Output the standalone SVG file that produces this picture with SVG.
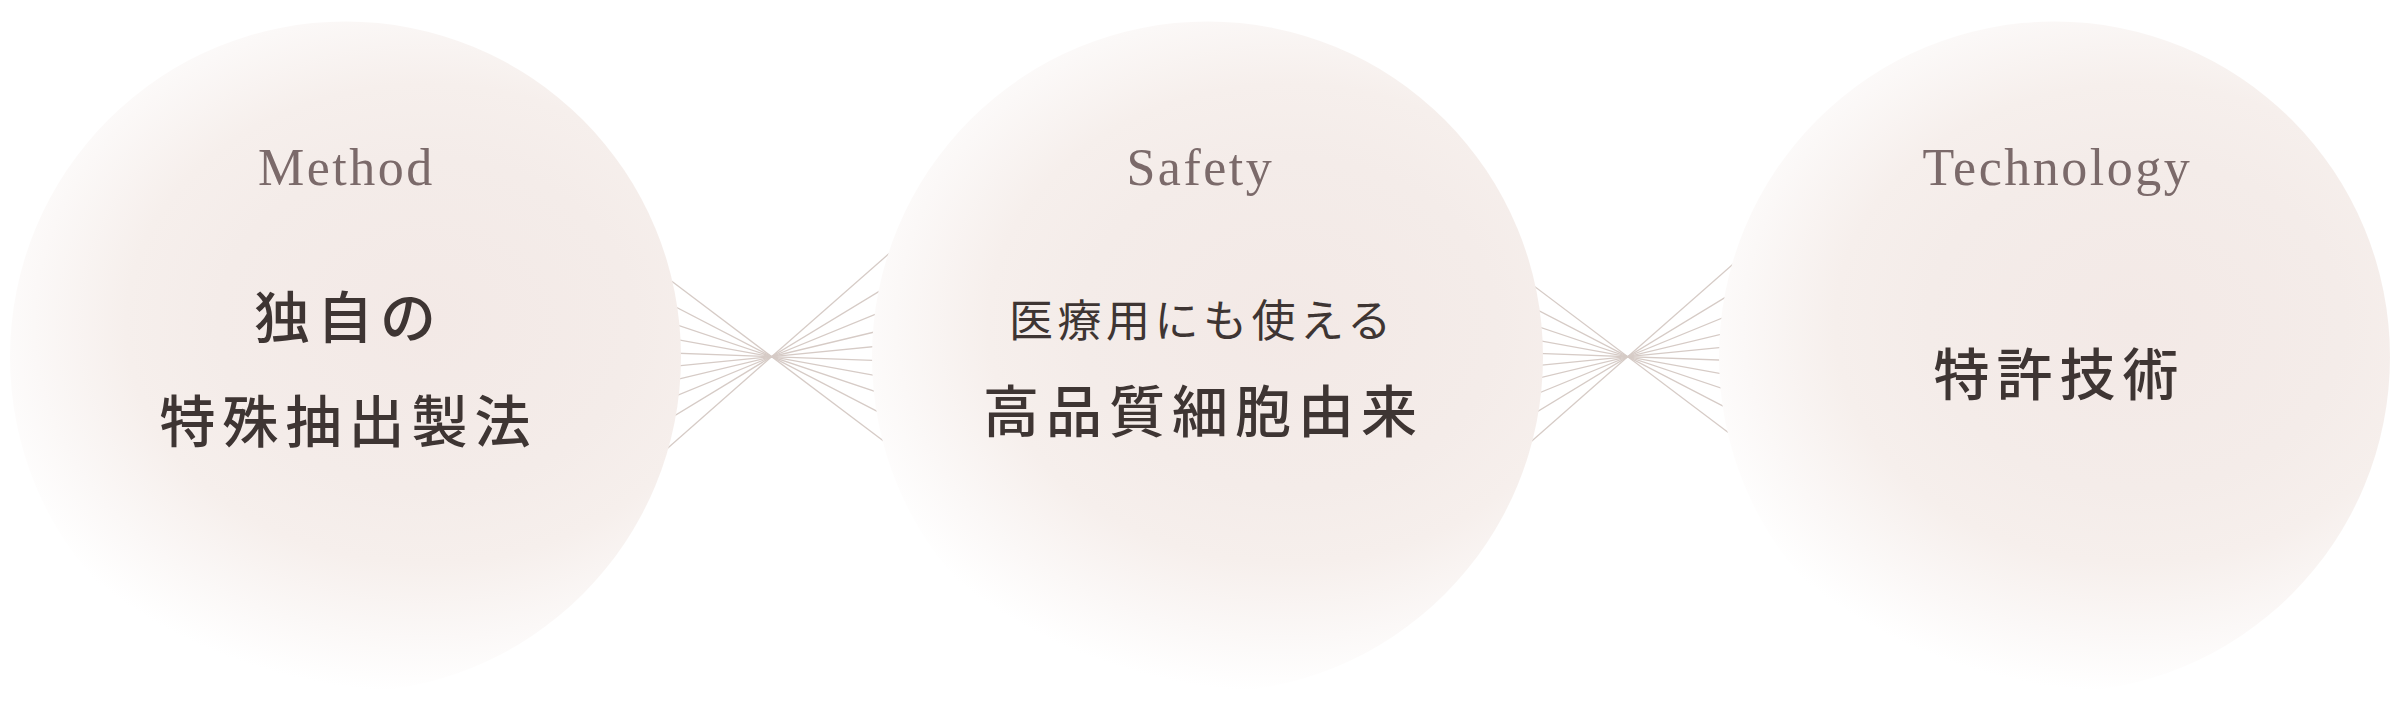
<svg xmlns="http://www.w3.org/2000/svg" width="2400" height="715" viewBox="0 0 2400 715">
  <style>
    .en { font-family: "Liberation Serif", "DejaVu Serif", serif; font-size: 52px; fill: #7b6a6a; letter-spacing: 2.5px; text-anchor: middle; }
    .jp { font-family: "Noto Sans CJK JP", "Noto Sans", sans-serif; font-size: 56px; fill: #3e3533; letter-spacing: 7px; text-anchor: middle; font-weight: 500; }
    .jps { font-family: "Noto Sans CJK JP", "Noto Sans", sans-serif; font-size: 44px; fill: #3e3533; letter-spacing: 4.5px; text-anchor: middle; }
    .fan line { stroke: #d6cbc6; stroke-width: 1.3; }
    .bubble { fill: url(#glow); }
  </style>
  <defs>
    <radialGradient id="glow" cx="0.62" cy="0.45" r="0.55" fx="0.62" fy="0.45" gradientTransform="translate(0.62 0.45) scale(1.25 1) translate(-0.62 -0.45)">
      <stop offset="0" stop-color="#f3e9e6"/>
      <stop offset="0.45" stop-color="#f4ece9"/>
      <stop offset="0.65" stop-color="#f6efec"/>
      <stop offset="0.85" stop-color="#fbf8f7"/>
      <stop offset="1" stop-color="#ffffff"/>
    </radialGradient>
    <g id="fan" class="fan">
      <line x1="-135.7" y1="-102.4" x2="135.7" y2="102.4"/>
      <line x1="-150.9" y1="-78.2" x2="150.9" y2="78.2"/>
      <line x1="-161.2" y1="-54.1" x2="161.2" y2="54.1"/>
      <line x1="-167.3" y1="-30.4" x2="167.3" y2="30.4"/>
      <line x1="-169.9" y1="-6.2" x2="169.9" y2="6.2"/>
      <line x1="-169.2" y1="16.7" x2="169.2" y2="-16.7"/>
      <line x1="-165.3" y1="39.7" x2="165.3" y2="-39.7"/>
      <line x1="-157.3" y1="64.4" x2="157.3" y2="-64.4"/>
      <line x1="-145.3" y1="88.3" x2="145.3" y2="-88.3"/>
      <line x1="-127.7" y1="112.2" x2="127.7" y2="-112.2"/>
    </g>
  </defs>
  <rect width="2400" height="715" fill="#ffffff"/>
  <g id="connectors">
    <use href="#fan" transform="translate(771.7 356.7)"/>
    <use href="#fan" transform="translate(1627.7 356.7)"/>
  </g>
  <g id="node-method">
    <circle class="bubble" cx="345.5" cy="357" r="335.5"/>
    <text class="en" x="346.3" y="185">Method</text>
    <text class="jp" x="348.5" y="338">独自の</text>
    <text class="jp" x="348.5" y="441.5">特殊抽出製法</text>
  </g>
  <g id="node-safety">
    <circle class="bubble" cx="1207.5" cy="357" r="335.5"/>
    <text class="en" x="1200.3" y="185">Safety</text>
    <text class="jps" x="1202.3" y="337">医療用にも使える</text>
    <text class="jp" x="1203.5" y="431.5">高品質細胞由来</text>
  </g>
  <g id="node-technology">
    <circle class="bubble" cx="2054.5" cy="357" r="335.5"/>
    <text class="en" x="2057.3" y="185">Technology</text>
    <text class="jp" x="2059.5" y="395">特許技術</text>
  </g>
</svg>
